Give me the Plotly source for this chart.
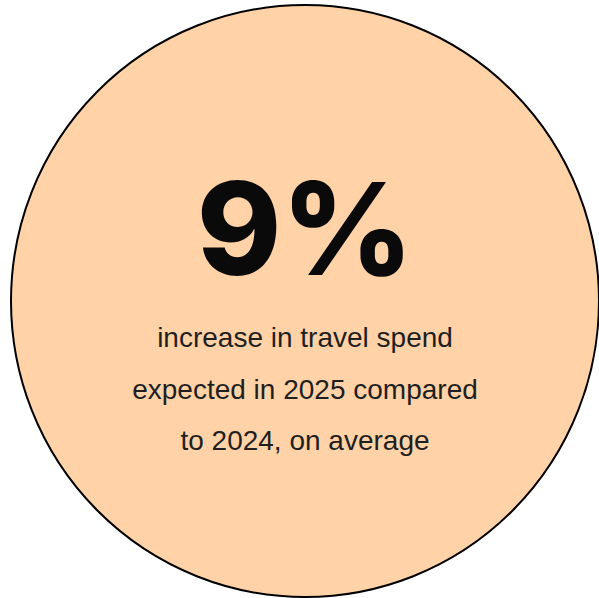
import plotly.graph_objects as go

# Data
stat_value = "9%"
caption_lines = ["increase in travel spend", "expected in 2025 compared", "to 2024, on average"]

W, H = 599, 598
fig = go.Figure()

fig.add_shape(type="circle", xref="x", yref="y", x0=11, x1=599, y0=5, y1=597,
              fillcolor="#FFD2A7", line=dict(color="#000000", width=2), layer="below")

cx = 305
fig.add_trace(go.Scatter(x=[cx], y=[243], mode="text", text=[stat_value],
                         textfont=dict(family="Inter", size=128, color="#0a0a0a", weight=800),
                         hoverinfo="skip", showlegend=False))
cap_y = [340, 392, 443]
fig.add_trace(go.Scatter(x=[cx] * len(caption_lines), y=cap_y, mode="text", text=caption_lines,
                         textfont=dict(family="Liberation Sans", size=28, color="#1f1f1f"),
                         hoverinfo="skip", showlegend=False))

fig.update_layout(width=W, height=H, margin=dict(l=0, r=0, t=0, b=0),
                  paper_bgcolor="white", plot_bgcolor="white",
                  xaxis=dict(range=[0, W], visible=False, fixedrange=True),
                  yaxis=dict(range=[H, 0], visible=False, fixedrange=True))

fig.write_html("out.html", config={"displayModeBar": False},
               post_script="document.body.style.margin='0';")
